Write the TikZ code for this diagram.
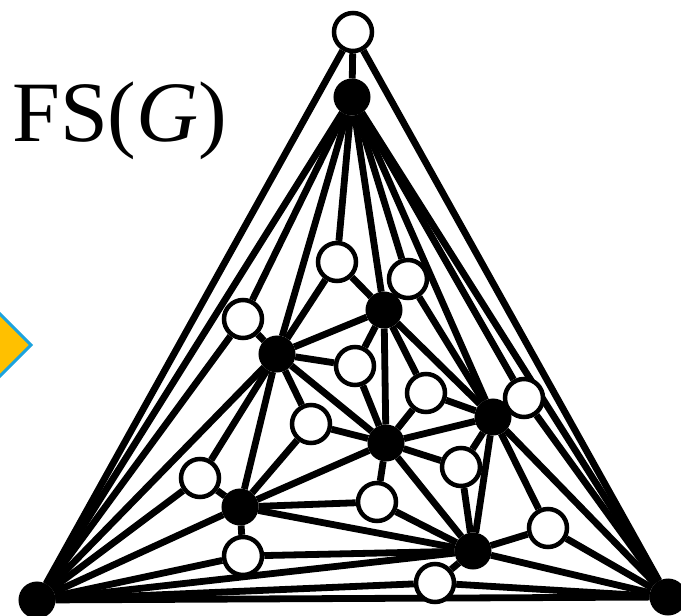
\documentclass[tikz,border=0pt]{standalone}
\usepackage{fontspec}
\setmainfont{Liberation Serif}
\usetikzlibrary{backgrounds}
\definecolor{arrowfill}{HTML}{FFC000}
\definecolor{arrowline}{HTML}{1CA3DE}

\begin{document}
\begin{tikzpicture}[x=1pt, y=-1pt,
    vnode/.style={circle, fill=black, draw=black, line width=2pt, minimum size=35pt, inner sep=0pt},
    fnode/.style={circle, fill=white, draw=black, line width=4.5pt, minimum size=38pt, inner sep=0pt},
    gedge/.style={line width=6.8pt}]
    \useasboundingbox (0,0) rectangle (681,616);

    % pointer from the left
    \draw [line width=3pt, draw=arrowline, fill=arrowfill] (0,314) -- (31,345) -- (0,376) -- (-31,345) -- cycle;

    \node [anchor=base west, inner sep=0pt, font=\fontsize{86}{86}\selectfont] (title) at (12,141) {FS(\textit{G})};

    % vertices of G
    \node [vnode] (T) at (352,97) {};
    \node [vnode] (L) at (37,600) {};
    \node [vnode] (R) at (668,597) {};
    \node [vnode] (A) at (384,310) {};
    \node [vnode] (B) at (277,354) {};
    \node [vnode] (C) at (493,417) {};
    \node [vnode] (D) at (386,443) {};
    \node [vnode] (E) at (240,507) {};
    \node [vnode] (F) at (473,551) {};

    % one vertex per face
    \node [fnode] (w0) at (353,32) {};
    \node [fnode] (w1) at (337,262) {};
    \node [fnode] (w2) at (408,279) {};
    \node [fnode] (w3) at (243,319) {};
    \node [fnode] (w4) at (355,366) {};
    \node [fnode] (w5) at (426,393) {};
    \node [fnode] (w6) at (524,398) {};
    \node [fnode] (w7) at (311,424) {};
    \node [fnode] (w8) at (461,467) {};
    \node [fnode] (w9) at (200,478) {};
    \node [fnode] (w10) at (377,502) {};
    \node [fnode] (w11) at (548,528) {};
    \node [fnode] (w12) at (243,556) {};
    \node [fnode] (w13) at (435,583) {};

    \begin{pgfonlayer}{background}
        % edges of G
        \foreach \a/\b in {T/L, T/R, L/R, T/B, T/A, T/C, B/A, A/C, B/L, B/D, A/D,
                           C/D, C/R, D/E, B/E, D/F, C/F, E/L, E/F, F/L, F/R}
            \draw [gedge] (\a) -- (\b);
        % face vertex to its three corners
        \foreach \f/\x/\y/\z in {w0/T/L/R, w1/T/B/A, w2/T/A/C, w3/T/B/L, w4/B/A/D,
                                 w5/A/C/D, w6/T/C/R, w7/B/D/E, w8/C/D/F, w9/B/E/L,
                                 w10/D/E/F, w11/C/F/R, w12/E/L/F, w13/L/F/R}
            \draw [gedge] (\f) -- (\x) (\f) -- (\y) (\f) -- (\z);
    \end{pgfonlayer}
\end{tikzpicture}
\end{document}
